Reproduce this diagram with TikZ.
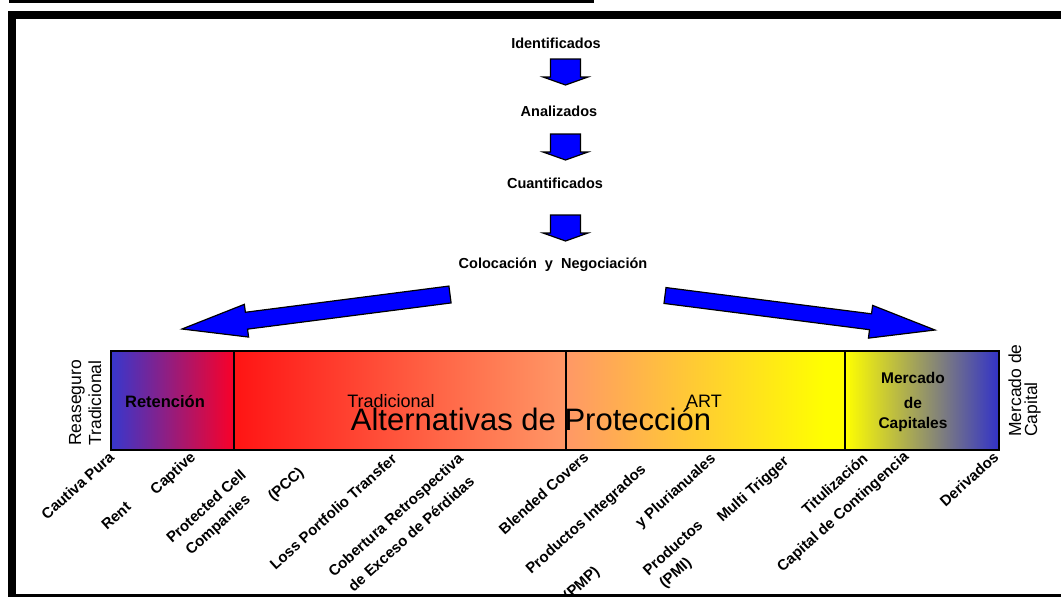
\documentclass[tikz,border=0pt]{standalone}
\usepackage{fontspec}
\setmainfont{Liberation Sans}
\usetikzlibrary{calc}
\definecolor{retA}{RGB}{55,55,205}
\definecolor{retB}{RGB}{250,0,40}
\definecolor{traA}{RGB}{255,20,20}
\definecolor{traB}{RGB}{255,152,102}
\definecolor{artB}{RGB}{255,255,0}
\definecolor{merB}{RGB}{50,50,200}
\newcommand\dnarrow[1]{%
  \filldraw[blockarrow] (550.5,#1) -- (580.5,#1) -- (580.5,#1+18) -- (588,#1+18) -- (565.5,#1+26) -- (543,#1+18) -- (550.5,#1+18) -- cycle;}
\begin{document}
\begin{tikzpicture}[x=1pt,y=-1pt,
  flow/.style={font=\fontsize{14.5}{16}\selectfont\bfseries, inner sep=0, anchor=base},
  lab/.style={font=\fontsize{15}{17}\selectfont\bfseries, inner sep=0, rotate=42, anchor=center},
  side/.style={font=\fontsize{17.5}{19}\selectfont, inner sep=0, rotate=90, anchor=base},
  blockarrow/.style={fill=blue, draw=black, line width=1.2pt, line join=miter},
  seg/.style={draw=none}
]
\useasboundingbox (0,0) rectangle (1061,597);
\fill[white] (0,0) rectangle (1061,597);

% flow texts
\node[flow] (ide) at (556,48) {Identificados};
\node[flow] (ana) at (559,116) {Analizados};
\node[flow] (cua) at (555,188) {Cuantificados};
\node[flow] (col) at (553,268) {Colocación\ \ y\ \ Negociación};
\dnarrow{59}
\dnarrow{134}
\dnarrow{215}

% big arrows
\coordinate (lt) at (450,294.5);
\coordinate (lh) at (182,329);
\coordinate (lb) at ($(lh)!65pt!(lt)$);
\filldraw[blockarrow] ($(lt)!8.5pt!90:(lh)$) -- ($(lb)!8.5pt!-90:(lt)$) -- ($(lb)!16.5pt!-90:(lt)$) -- (lh)
  -- ($(lb)!16.5pt!90:(lt)$) -- ($(lb)!8.5pt!90:(lt)$) -- ($(lt)!8.5pt!-90:(lh)$) -- cycle;
\coordinate (rt) at (665,295.5);
\coordinate (rh) at (935,330);
\coordinate (rb) at ($(rh)!65pt!(rt)$);
\filldraw[blockarrow] ($(rt)!8pt!90:(rh)$) -- ($(rb)!8pt!-90:(rt)$) -- ($(rb)!16.5pt!-90:(rt)$) -- (rh)
  -- ($(rb)!16.5pt!90:(rt)$) -- ($(rb)!8pt!90:(rt)$) -- ($(rt)!8pt!-90:(rh)$) -- cycle;

% bar
\shade[left color=retA, right color=retB] (111,351) rectangle (234,450);
\shade[left color=traA, right color=traB] (234,351) rectangle (566,450);
\fill[artB] (566,351) rectangle (845,450);
\shade[left color=traB, right color=artB] (566,351) rectangle (825,450);
\shade[left color=artB, right color=merB] (845,351) rectangle (999,450);
\draw[line width=1.8pt] (111,351) rectangle (999,450);
\draw[line width=1.6pt] (234,351) -- (234,450) (566,351) -- (566,450) (845,351) -- (845,450);

\node[font=\fontsize{16.5}{18}\selectfont\bfseries, inner sep=0, anchor=base] (ret) at (165,407) {Retención};
\node[font=\fontsize{18}{20}\selectfont, inner sep=0, anchor=base] (tra) at (391,407) {Tradicional};
\node[font=\fontsize{18}{20}\selectfont, inner sep=0, anchor=base] (art) at (704,407) {ART};
\node[font=\fontsize{31}{34}\selectfont, inner sep=0, anchor=base] (alt) at (531,430) {Alternativas de Protección};
\node[font=\fontsize{15.5}{17}\selectfont\bfseries, inner sep=0, anchor=base] (mer1) at (913,383) {Mercado};
\node[font=\fontsize{15.5}{17}\selectfont\bfseries, inner sep=0, anchor=base] (mer2) at (913,408) {de};
\node[font=\fontsize{15.5}{17}\selectfont\bfseries, inner sep=0, anchor=base] (mer3) at (913,428) {Capitales};

% side labels
\node[side] (rea1) at (81,403) {Reaseguro};
\node[side] (rea2) at (101,403) {Tradicional};
\node[side, anchor=base west] (mc1) at (1021,437) {Mercado de};
\node[side, anchor=base west] (mc2) at (1037,437) {Capital};

% bottom labels
\node[lab] (l1) at (77.5,485.5) {Cautiva Pura};
\node[lab] (l2) at (116,516) {Rent};
\node[lab] (l3) at (173.5,474) {Captive};
\node[lab] (l4) at (206,506) {Protected Cell};
\node[lab] (l5) at (218.5,525.5) {Companies};
\node[lab] (l6) at (286.5,485) {(PCC)};
\node[lab] (l7) at (333,511.5) {Loss Portfolio Transfer};
\node[lab] (l8) at (396.5,516) {Cobertura Retrospectiva};
\node[lab] (l9) at (411,533.5) {de Exceso de Pérdidas};
\node[lab] (l10) at (543.5,493) {Blended Covers};
\node[lab] (l11) at (586.5,520) {Productos Integrados};
\node[lab] (l12) at (582,584) {(PMP)};
\node[lab] (l13) at (676,491.5) {y Plurianuales};
\node[lab] (l14) at (672.5,547.5) {Productos};
\node[lab] (l15) at (676,573.5) {(PMI)};
\node[lab] (l16) at (753.5,490) {Multi Trigger};
\node[lab] (l17) at (834.5,483.5) {Titulización};
\node[lab] (l18) at (843.5,512.5) {Capital de Contingencia};
\node[lab] (l19) at (969,479) {Derivados};

% frame
\fill (9,0) rectangle (594,2.5);
\fill (8,11) rectangle (1061,19);
\fill (8,11) rectangle (16,597);
\fill (8,594) rectangle (1061,597);
\end{tikzpicture}
\end{document}
